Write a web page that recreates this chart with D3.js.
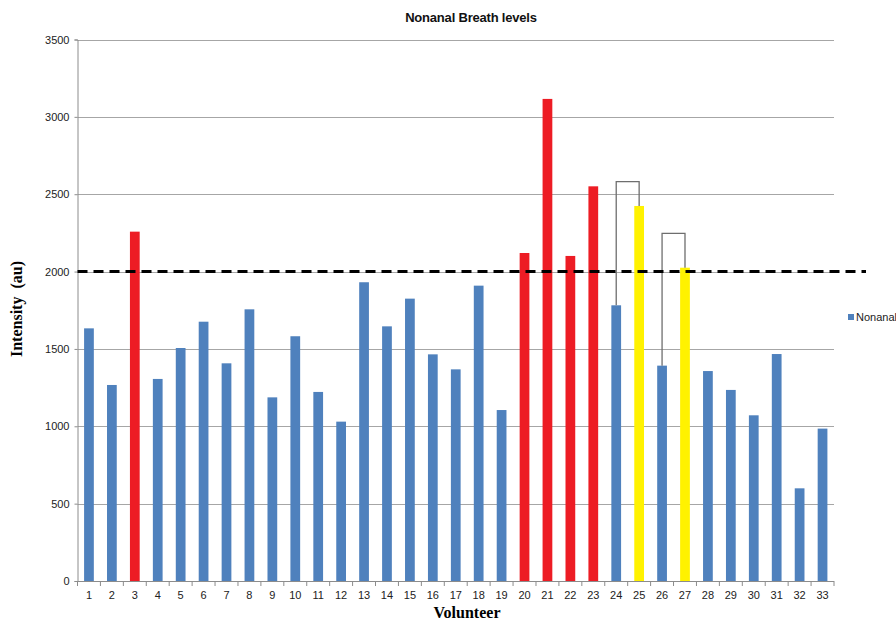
<!DOCTYPE html>
<html>
<head>
<meta charset="utf-8">
<script src="https://cdn.jsdelivr.net/npm/d3@7"></script>
<style>
  html, body { margin: 0; padding: 0; background: #fff; }
  svg { display: block; }
</style>
</head>
<body>
<svg id="chart" width="896" height="622"></svg>
<script>
// Volunteers 1..33 and their nonanal breath intensity (arbitrary units)
const volunteers = d3.range(1, 34).map(String);
const nonanal = [1633, 1267, 2258, 1306, 1506, 1676, 1407, 1756, 1187, 1582,
                 1222, 1030, 1931, 1646, 1825, 1465, 1368, 1909, 1105, 2120,
                 3116, 2101, 2551, 1782, 2424, 1392, 2025, 1357, 1235, 1071,
                 1467, 599, 985];
// Highlight group per volunteer: "high" above the threshold, "paired" follow-up samples
const highVolunteers = ["3", "20", "21", "22", "23"];
const pairedVolunteers = ["25", "27"];
// Brackets linking a volunteer to a follow-up sample, with the bracket's top level
const bracketPairs = [["24", "25"], ["26", "27"]];
const bracketTops = [2581, 2247];
const threshold = 2000;
const yTicks = [0, 500, 1000, 1500, 2000, 2500, 3000, 3500];

const colors = { base: "#4F81BD", high: "#ED1C24", paired: "#FFF200" };
const groupOf = v => highVolunteers.includes(v) ? "high"
                   : pairedVolunteers.includes(v) ? "paired" : "base";

const svg = d3.select("#chart");
const plotLeft = 77.5, plotRight = 834, plotTop = 39.5, plotBottom = 581;

const x = d3.scaleBand().domain(volunteers).range([plotLeft, plotRight])
  .paddingInner(0.575).paddingOuter(0.2875);
const y = d3.scaleLinear().domain([0, 3500]).range([plotBottom, plotTop]);

// Horizontal gridlines
svg.append("g").selectAll("line").data(yTicks.filter(t => t > 0)).join("line")
  .attr("x1", plotLeft).attr("x2", plotRight)
  .attr("y1", d => Math.round(y(d)) + 0.5).attr("y2", d => Math.round(y(d)) + 0.5)
  .attr("stroke", "#a6a6a6").attr("stroke-width", 1);

// Y axis
const yAxis = svg.append("g").attr("transform", `translate(${plotLeft},0)`)
  .call(d3.axisLeft(y).tickValues(yTicks).tickSize(3).tickPadding(5).tickFormat(d3.format("d")));
yAxis.select(".domain").attr("stroke", "#8c8c8c");
yAxis.selectAll(".tick line").attr("stroke", "#8c8c8c");
yAxis.selectAll(".tick text").attr("font-family", "Arial, 'Liberation Sans', sans-serif")
  .attr("font-size", 11).attr("fill", "#222");

// Bars
svg.append("g").selectAll("rect").data(volunteers).join("rect")
  .attr("x", (d) => x(d))
  .attr("width", x.bandwidth())
  .attr("y", (d, i) => y(nonanal[i]))
  .attr("height", (d, i) => y(0) - y(nonanal[i]))
  .attr("fill", d => colors[groupOf(d)]);

// X axis: labels centred under bars, tick marks between categories
const xAxisG = svg.append("g").attr("transform", `translate(0,${plotBottom})`);
xAxisG.append("line").attr("x1", plotLeft).attr("x2", plotRight).attr("y1", 0.5).attr("y2", 0.5)
  .attr("stroke", "#8c8c8c");
const step = x.step();
xAxisG.selectAll("line.tk").data(d3.range(volunteers.length + 1)).join("line")
  .attr("class", "tk")
  .attr("x1", i => plotLeft + i * step).attr("x2", i => plotLeft + i * step)
  .attr("y1", 0).attr("y2", 5).attr("stroke", "#8c8c8c");
xAxisG.selectAll("text").data(volunteers).join("text")
  .attr("x", d => x(d) + x.bandwidth() / 2).attr("y", 18)
  .attr("text-anchor", "middle")
  .attr("font-family", "Arial, 'Liberation Sans', sans-serif")
  .attr("font-size", 11).attr("fill", "#222")
  .text(d => d);

// Brackets between paired samples
bracketPairs.forEach((pair, k) => {
  const [a, b] = pair;
  const xa = x(a) + x.bandwidth() / 2, xb = x(b) + x.bandwidth() / 2;
  const ya = y(nonanal[volunteers.indexOf(a)]), yb = y(nonanal[volunteers.indexOf(b)]);
  const yt = y(bracketTops[k]);
  svg.append("path")
    .attr("d", `M${xa},${ya}V${yt}H${xb}V${yb}`)
    .attr("fill", "none").attr("stroke", "#6e6e6e").attr("stroke-width", 1.3);
});

// Threshold line
svg.append("line")
  .attr("x1", plotLeft).attr("x2", 866)
  .attr("y1", y(threshold)).attr("y2", y(threshold))
  .attr("stroke", "#000").attr("stroke-width", 3)
  .attr("stroke-dasharray", "10,6");

// Title
svg.append("text").attr("x", 471).attr("y", 22).attr("text-anchor", "middle")
  .attr("font-family", "Arial, 'Liberation Sans', sans-serif")
  .attr("font-size", 13).attr("font-weight", "bold").attr("fill", "#111")
  .attr("letter-spacing", -0.2)
  .text("Nonanal Breath levels");

// Axis titles
svg.append("text")
  .attr("transform", `translate(22,309) rotate(-90)`)
  .attr("text-anchor", "middle")
  .attr("font-family", "'Liberation Serif', 'Times New Roman', serif")
  .attr("font-size", 16).attr("font-weight", "bold").attr("fill", "#000")
  .style("white-space", "pre")
  .text("Intensity  (au)");
svg.append("text").attr("x", 467).attr("y", 618).attr("text-anchor", "middle")
  .attr("font-family", "'Liberation Serif', 'Times New Roman', serif")
  .attr("font-size", 16).attr("font-weight", "bold").attr("fill", "#000")
  .text("Volunteer");

// Legend
const legend = svg.append("g").attr("transform", "translate(848,314)");
legend.append("rect").attr("width", 6).attr("height", 6).attr("fill", colors.base);
legend.append("text").attr("x", 8).attr("y", 7)
  .attr("font-family", "Arial, 'Liberation Sans', sans-serif")
  .attr("font-size", 11).attr("fill", "#222")
  .text("Nonanal");
</script>
</body>
</html>
